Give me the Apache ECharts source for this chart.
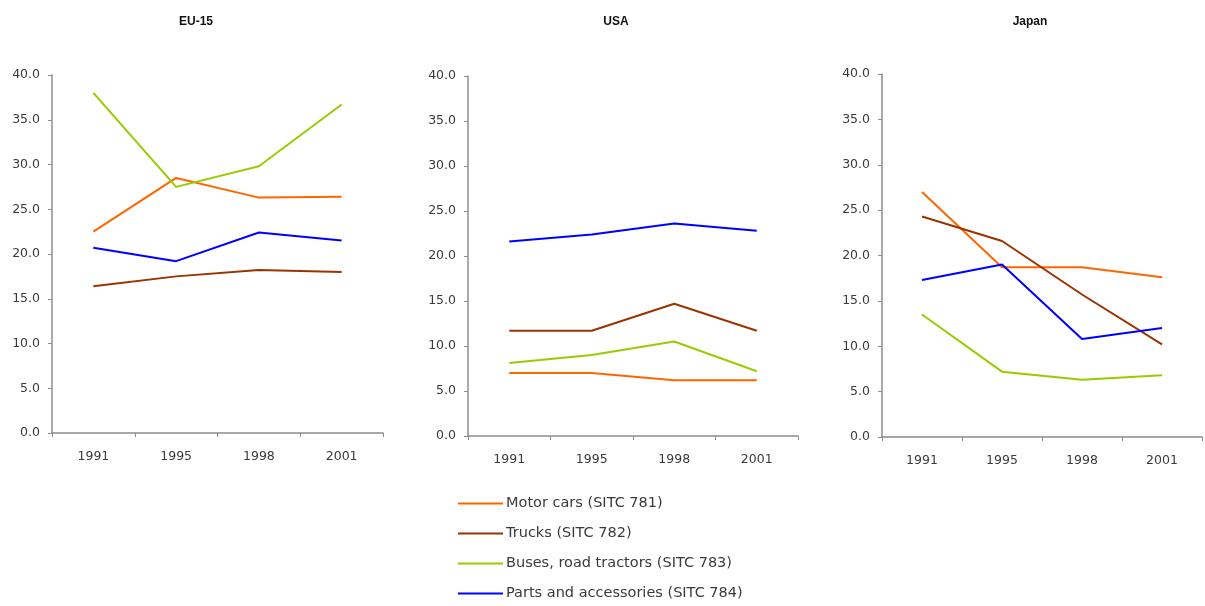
<!DOCTYPE html>
<html>
<head>
<meta charset="utf-8">
<script src="https://cdn.jsdelivr.net/npm/echarts@6/dist/echarts.min.js"></script>
<style>html,body{margin:0;padding:0;background:#fff}#c{width:1205px;height:606px}</style>
</head>
<body>
<div id="c"></div>
<script>
const years = ['1991', '1995', '1998', '2001'];
const seriesNames = ['Motor cars (SITC 781)', 'Trucks (SITC 782)', 'Buses, road tractors (SITC 783)', 'Parts and accessories (SITC 784)'];
const panelTitles = ['EU-15', 'USA', 'Japan'];
const colors = ['#FF6600', '#993300', '#99CC00', '#0000FF'];

const euCars = [22.5, 28.5, 26.3, 26.4];
const euTrucks = [16.4, 17.5, 18.2, 18.0];
const euBuses = [38.0, 27.5, 29.8, 36.7];
const euParts = [20.7, 19.2, 22.4, 21.5];

const usCars = [7.0, 7.0, 6.2, 6.2];
const usTrucks = [11.7, 11.7, 14.7, 11.7];
const usBuses = [8.1, 9.0, 10.5, 7.2];
const usParts = [21.6, 22.4, 23.6, 22.8];

const jpCars = [27.0, 18.7, 18.7, 17.6];
const jpTrucks = [24.3, 21.6, 15.7, 10.2];
const jpBuses = [13.5, 7.2, 6.3, 6.8];
const jpParts = [17.3, 19.0, 10.8, 12.0];

const panels = [
  [euCars, euTrucks, euBuses, euParts],
  [usCars, usTrucks, usBuses, usParts],
  [jpCars, jpTrucks, jpBuses, jpParts]
];

const grids = [
  {left: 52, top: 75, width: 331, height: 358},
  {left: 468, top: 76, width: 330, height: 360},
  {left: 882, top: 74, width: 320, height: 363}
];
const titleX = [191, 611, 1025];

const axisColor = '#8c8c8c';
const labelColor = '#3a3a3a';
const font = 'DejaVu Sans, sans-serif';

const option = {
  animation: false,
  backgroundColor: '#fff',
  title: panelTitles.map((t, i) => ({
    text: t, left: titleX[i], top: 11, textAlign: 'center',
    textStyle: {fontSize: 12, fontWeight: 'bold', color: '#111',
      fontFamily: 'Liberation Sans Narrow, Arial Narrow, Liberation Sans, sans-serif'}
  })),
  legend: {
    orient: 'vertical', left: 453, top: 490, height: 130,
    itemWidth: 45, itemHeight: 2, itemGap: 13,
    icon: 'rect',
    data: seriesNames,
    textStyle: {fontSize: 14.5, color: labelColor, fontFamily: font, lineHeight: 17, padding: [0, 0, 0, -2]}
  },
  grid: grids,
  xAxis: grids.map((g, i) => ({
    type: 'category', gridIndex: i, data: years, boundaryGap: true,
    axisLine: {lineStyle: {color: axisColor, width: 1.5}},
    axisTick: {show: true, length: 4, lineStyle: {color: axisColor}},
    axisLabel: {color: labelColor, fontSize: 12.5, fontFamily: font, margin: 17}
  })),
  yAxis: grids.map((g, i) => ({
    type: 'value', gridIndex: i, min: 0, max: 40, interval: 5,
    splitLine: {show: false},
    axisLine: {show: true, lineStyle: {color: axisColor, width: 1.5}},
    axisTick: {show: true, length: 4, lineStyle: {color: axisColor}},
    axisLabel: {color: labelColor, fontSize: 12.5, fontFamily: font, margin: 12,
      formatter: v => v.toFixed(1)}
  })),
  series: []
};

panels.forEach((p, gi) => {
  p.forEach((vals, si) => {
    option.series.push({
      type: 'line', name: seriesNames[si], xAxisIndex: gi, yAxisIndex: gi,
      data: vals, symbol: 'none', color: colors[si],
      lineStyle: {width: 2, color: colors[si]}
    });
  });
});

echarts.init(document.getElementById('c')).setOption(option);
</script>
</body>
</html>
